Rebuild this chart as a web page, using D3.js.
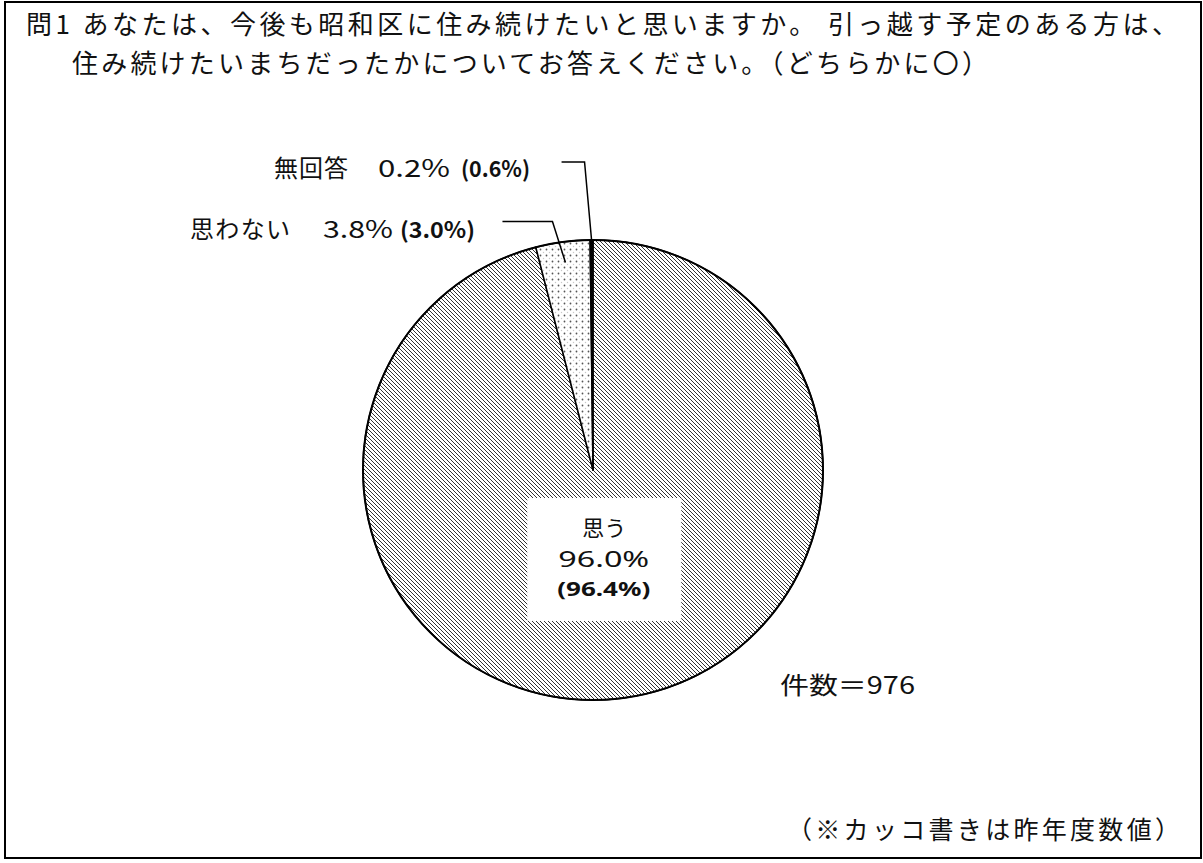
<!DOCTYPE html>
<html>
<head>
<meta charset="utf-8">
<script src="https://cdn.jsdelivr.net/npm/d3@7"></script>
<style>
  html, body { margin: 0; padding: 0; background: #fff; }
  svg { display: block; font-family: "Noto Sans CJK JP", sans-serif; }
</style>
</head>
<body>
<svg id="chart" width="1203" height="863"></svg>
<script>
// Data
const categories = ["思う", "思わない", "無回答"];
const values = [96.0, 3.8, 0.2];
const prevValues = [96.4, 3.0, 0.6];
const totalCount = 976;
const titleLines = [
    "問1 あなたは、今後も昭和区に住み続けたいと思いますか。 引っ越す予定のある方は、",
    "住み続けたいまちだったかについてお答えください。（どちらかに〇）",
];
const noteText = "（※カッコ書きは昨年度数値）";

// Layout
const width = 1203, height = 863;
const cx = 593, cy = 470, radius = 230;
const fills = { "思う": "url(#hatch)", "思わない": "url(#dots)", "無回答": "#000" };
const fmt = (v) => v.toFixed(1) + "%";

// label placement for the small slices (elbow offsets from the anchor on the pie)
const outerLabels = {
    "無回答": { anchorR: 1.0, elbow: [-7, -78], lineLen: 23, y: 168,
        nameX: 274, nameW: 74, pctX: 378, pctW: 72, prevX: 461, prevW: 69 },
    "思わない": { anchorR: 0.91, elbow: [-13, -41], lineLen: 50, y: 229,
        nameX: 190, nameW: 100, pctX: 323, pctW: 70, prevX: 400, prevW: 75 },
};

const svg = d3.select("#chart");

// frame
svg.append("rect")
    .attr("x", 5).attr("y", 2)
    .attr("width", 1196).attr("height", 856)
    .attr("fill", "none").attr("stroke", "#000").attr("stroke-width", 2);

// patterns
const defs = svg.append("defs");
const hatch = defs.append("pattern")
    .attr("id", "hatch")
    .attr("patternUnits", "userSpaceOnUse")
    .attr("width", 4).attr("height", 4);
hatch.append("rect").attr("width", 4).attr("height", 4).attr("fill", "#fff");
hatch.append("path")
    .attr("d", "M-1,3 l2,2 M0,0 l4,4 M3,-1 l2,2")
    .attr("stroke", "#333").attr("stroke-width", 1.0);

const dots = defs.append("pattern")
    .attr("id", "dots")
    .attr("patternUnits", "userSpaceOnUse")
    .attr("width", 6).attr("height", 6);
dots.append("rect").attr("width", 6).attr("height", 6).attr("fill", "#fff");
dots.append("circle").attr("cx", 1.5).attr("cy", 1.5).attr("r", 0.9).attr("fill", "#555");
dots.append("circle").attr("cx", 4.5).attr("cy", 4.5).attr("r", 0.7).attr("fill", "#c8c8c8");

// title
const titleX = [26, 72], titleY = [34, 73], titleW = [1152, 916];
svg.selectAll("text.title")
    .data(titleLines)
    .enter()
    .append("text")
    .classed("title", true)
    .attr("x", (d, i) => titleX[i])
    .attr("y", (d, i) => titleY[i])
    .attr("font-size", 26)
    .attr("fill", "#111")
    .attr("textLength", (d, i) => titleW[i])
    .attr("lengthAdjust", "spacing")
    .text((d) => d);

// pie
const data = categories.map((c, i) => ({ name: c, value: values[i], prev: prevValues[i] }));
const pie = d3.pie().sort(null).value((d) => d.value);
const arcs = pie(data);
const arc = d3.arc().innerRadius(0).outerRadius(radius);

const g = svg.append("g").attr("transform", `translate(${cx},${cy})`);

g.selectAll("path.slice")
    .data(arcs)
    .enter()
    .append("path")
    .classed("slice", true)
    .attr("d", arc)
    .attr("fill", (d) => fills[d.data.name])
    .attr("stroke", "#000")
    .attr("stroke-width", 1.5)
    .attr("stroke-linejoin", "round");

g.append("circle")
    .attr("r", radius)
    .attr("fill", "none")
    .attr("stroke", "#000")
    .attr("stroke-width", 2);

// main slice label
const big = arcs[0];
const labelArc = d3.arc().innerRadius(radius * 0.39).outerRadius(radius * 0.39);
const [lx, ly] = labelArc.centroid(big);
const box = g.append("g").attr("transform", `translate(${lx},${ly})`);
box.append("rect")
    .attr("x", -77).attr("y", -61)
    .attr("width", 154).attr("height", 123)
    .attr("fill", "#fff");
box.append("text")
    .attr("text-anchor", "middle")
    .attr("y", -31 + 8)
    .attr("font-size", 22)
    .attr("fill", "#111")
    .text(big.data.name);
box.append("text")
    .attr("x", -46)
    .attr("y", 8)
    .attr("font-family", "'Noto Sans', sans-serif")
    .attr("font-size", 22)
    .attr("fill", "#111")
    .attr("textLength", 91)
    .attr("lengthAdjust", "spacingAndGlyphs")
    .text(fmt(big.data.value));
box.append("text")
    .attr("x", -47)
    .attr("y", 30 + 7)
    .attr("font-family", "'Noto Sans', sans-serif")
    .attr("font-size", 20)
    .attr("font-weight", "bold")
    .attr("fill", "#111")
    .attr("textLength", 93)
    .attr("lengthAdjust", "spacingAndGlyphs")
    .text(`(${fmt(big.data.prev)})`);

// outer labels with leader lines
arcs.slice(1).forEach((d) => {
    const L = outerLabels[d.data.name];
    const mid = (d.startAngle + d.endAngle) / 2;
    const ax = Math.sin(mid) * radius * L.anchorR;
    const ay = -Math.cos(mid) * radius * L.anchorR;
    const ex = ax + L.elbow[0], ey = ay + L.elbow[1];
    g.append("path")
        .attr("d", `M${ex - L.lineLen},${ey} L${ex},${ey} L${ax},${ay}`)
        .attr("fill", "none")
        .attr("stroke", "#000")
        .attr("stroke-width", 1.5);

    const base = L.y + 9;
    svg.append("text")
        .attr("x", L.nameX).attr("y", base)
        .attr("font-size", 24).attr("fill", "#111")
        .attr("textLength", L.nameW).attr("lengthAdjust", "spacing")
        .text(d.data.name);
    svg.append("text")
        .attr("x", L.pctX).attr("y", base)
        .attr("font-size", 24).attr("fill", "#111")
        .attr("textLength", L.pctW).attr("lengthAdjust", "spacingAndGlyphs")
        .text(fmt(d.data.value));
    svg.append("text")
        .attr("x", L.prevX).attr("y", base)
        .attr("font-size", 22).attr("font-weight", "bold").attr("fill", "#111")
        .attr("textLength", L.prevW).attr("lengthAdjust", "spacingAndGlyphs")
        .text(`(${fmt(d.data.prev)})`);
});

// count
svg.append("text")
    .attr("x", 780).attr("y", 694)
    .attr("font-size", 24).attr("fill", "#111")
    .attr("textLength", 135).attr("lengthAdjust", "spacingAndGlyphs")
    .text(`件数＝${totalCount}`);

// note
svg.append("text")
    .attr("x", 787).attr("y", 839)
    .attr("font-size", 25).attr("fill", "#111")
    .attr("textLength", 393).attr("lengthAdjust", "spacing")
    .text(noteText);
</script>
</body>
</html>
